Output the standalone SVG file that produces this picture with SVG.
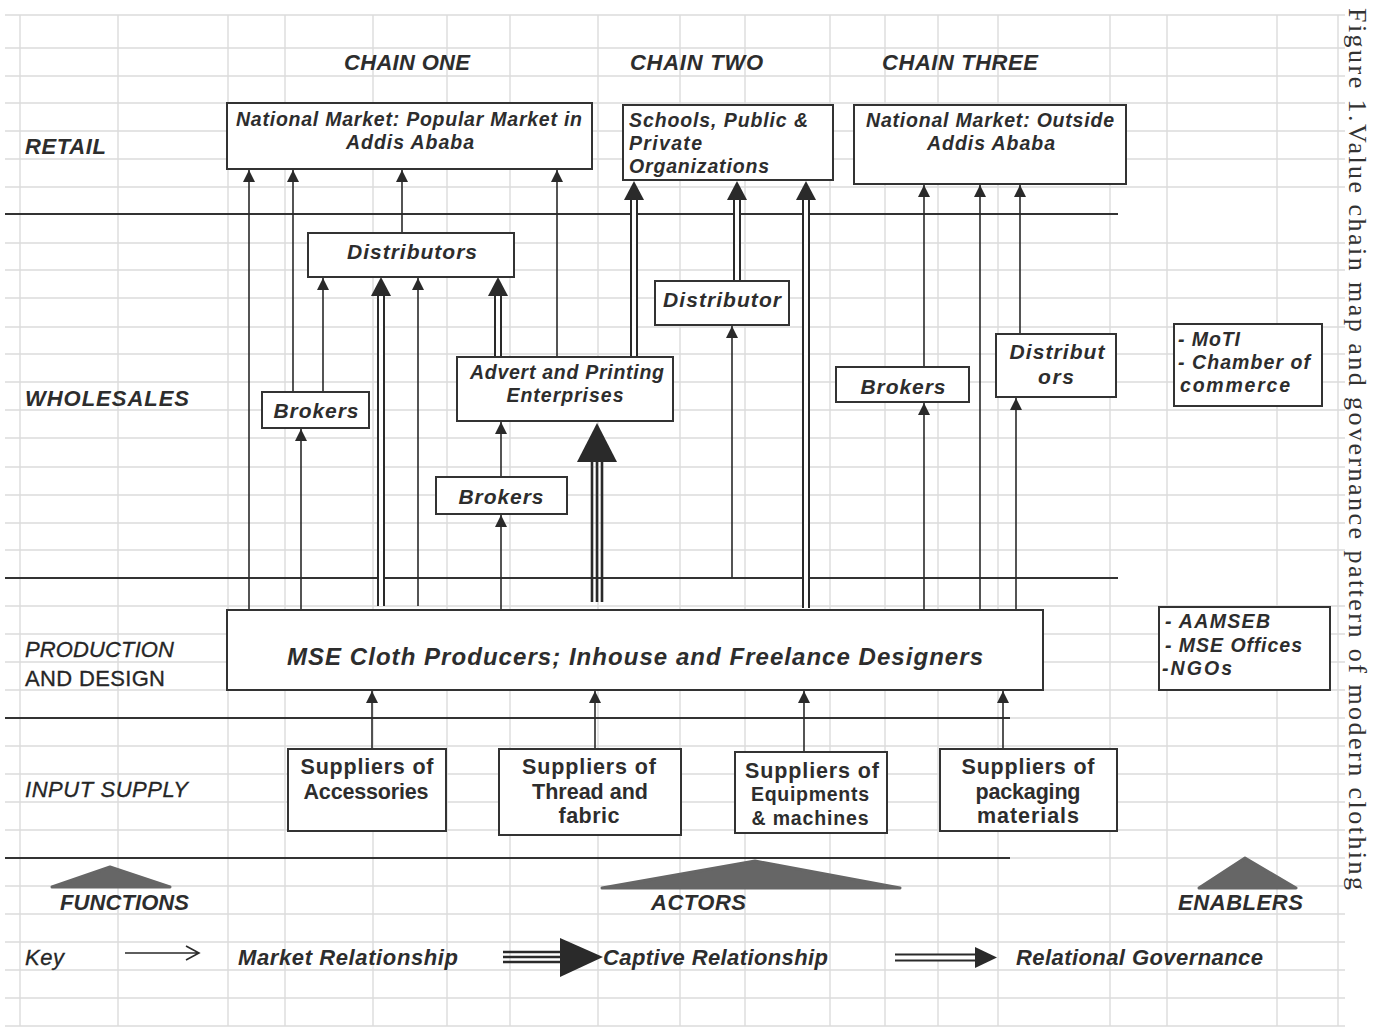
<svg xmlns="http://www.w3.org/2000/svg" width="1380" height="1034" viewBox="0 0 1380 1034">
<defs>
<style>
.grid{stroke:#dcdcdc;stroke-width:1.4;fill:none}
.sep{stroke:#333;stroke-width:1.8;fill:none}
.box{fill:#fff;stroke:#333;stroke-width:2}
.t{font-family:"Liberation Sans",Arial,sans-serif;font-weight:bold;font-style:italic;fill:#2d2d2d}
.u{font-family:"Liberation Sans",Arial,sans-serif;font-weight:bold;fill:#2d2d2d}
.n{font-family:"Liberation Sans",Arial,sans-serif;font-style:italic;fill:#262626;stroke:#262626;stroke-width:0.3}
.c{text-anchor:middle}
.s{stroke:#2a2a2a;stroke-width:1.6;fill:none}
.d2o{stroke:#2a2a2a;stroke-width:8;fill:none}
.d2i{stroke:#fff;stroke-width:4;fill:none}
.tr{stroke:#2a2a2a;stroke-width:2.6;fill:none}
.hd{fill:#2a2a2a}
.tri{fill:#666;stroke:#666;stroke-width:3;stroke-linejoin:round}
</style>
<marker id="ah" viewBox="0 0 12 12" refX="12" refY="6" markerWidth="13" markerHeight="12" markerUnits="userSpaceOnUse" orient="auto">
<path d="M0,0 L12,6 L0,12 z" fill="#2a2a2a"/>
</marker>
</defs>
<rect width="1380" height="1034" fill="#fff"/>
<g id="grid">
<path class="grid" d="M5,15H1345 M5,48H1345 M5,76H1345 M5,103H1345 M5,131H1345 M5,159H1345 M5,187H1345 M5,243H1345 M5,270H1345 M5,298H1345 M5,327H1345 M5,354H1345 M5,382H1345 M5,410H1345 M5,438H1345 M5,467H1345 M5,495H1345 M5,523H1345 M5,550H1345 M5,606H1345 M5,634H1345 M5,662H1345 M5,690H1345 M5,746H1345 M5,774H1345 M5,802H1345 M5,830H1345 M5,886H1345 M5,914H1345 M5,942H1345 M5,970H1345 M5,998H1345 M5,1026H1345 M1010,718H1345 M1010,858H1345"/>
<path class="grid" d="M20,15V1026 M118,15V1026 M228,15V1026 M285,15V1026 M373,15V1026 M447,15V1026 M510,15V1026 M598,15V1026 M680,15V1026 M745,15V1026 M830,15V1026 M885,15V1026 M938,15V1026 M998,15V1026 M1110,15V1026 M1167,15V1026 M1277,15V1026 M1338,15V1026"/>
</g>
<g id="separators">
<path class="sep" d="M5,214H1118 M5,578H1118 M5,718H1010 M5,858H1010"/>
</g>
<g id="labels">
<text class="t" x="344" y="70" font-size="22" textLength="126">CHAIN ONE</text>
<text class="t" x="630" y="70" font-size="22" textLength="133">CHAIN TWO</text>
<text class="t" x="882" y="70" font-size="22" textLength="156">CHAIN THREE</text>
<text class="t" x="25" y="154" font-size="22" textLength="81">RETAIL</text>
<text class="t" x="25" y="406" font-size="22" textLength="164">WHOLESALES</text>
<text class="n" x="25" y="657" font-size="22" textLength="149">PRODUCTION</text>
<text x="25" y="686" font-family="'Liberation Sans',Arial,sans-serif" font-size="22" fill="#262626" stroke="#262626" stroke-width="0.3" textLength="140">AND DESIGN</text>
<text class="n" x="25" y="797" font-size="22" textLength="163">INPUT SUPPLY</text>
<text class="t" x="60" y="910" font-size="22" textLength="129">FUNCTIONS</text>
<text class="t" x="651" y="910" font-size="22" textLength="95">ACTORS</text>
<text class="t" x="1178" y="910" font-size="22" textLength="125">ENABLERS</text>
<text class="n" x="25" y="965" font-size="22" textLength="39">Key</text>
<text class="t" x="238" y="965" font-size="22" textLength="220">Market Relationship</text>
<text class="t" x="603" y="965" font-size="22" textLength="225">Captive Relationship</text>
<text class="t" x="1016" y="965" font-size="22" textLength="247">Relational Governance</text>
<text x="0" y="0" transform="translate(1349,8) rotate(90)" font-family="'Liberation Serif','Times New Roman',serif" font-size="26" fill="#333" textLength="882">Figure 1.Value chain map and governance pattern of modern clothing</text>
</g>
<g id="triangles">
<polygon class="tri" points="52,887 110,867 170,887"/>
<polygon class="tri" points="602,888 755,861 900,888"/>
<polygon class="tri" points="1199,888 1245,858 1296,888"/>
</g>
<g id="connectors">
<path class="s" marker-end="url(#ah)" d="M249,609V170"/>
<path class="s" marker-end="url(#ah)" d="M293,392V170"/>
<path class="s" marker-end="url(#ah)" d="M402,233V170"/>
<path class="s" marker-end="url(#ah)" d="M557,357V170"/>
<path class="s" marker-end="url(#ah)" d="M323,392V278"/>
<path class="s" marker-end="url(#ah)" d="M418,606V278"/>
<path class="s" marker-end="url(#ah)" d="M501,477V422"/>
<path class="s" marker-end="url(#ah)" d="M501,609V515"/>
<path class="s" marker-end="url(#ah)" d="M301,609V429"/>
<path class="s" marker-end="url(#ah)" d="M732,578V326"/>
<path class="s" marker-end="url(#ah)" d="M924,367V185"/>
<path class="s" marker-end="url(#ah)" d="M980,609V185"/>
<path class="s" marker-end="url(#ah)" d="M1020,334V185"/>
<path class="s" marker-end="url(#ah)" d="M924,609V403"/>
<path class="s" marker-end="url(#ah)" d="M1016,609V398"/>
<path class="s" marker-end="url(#ah)" d="M372,749V691"/>
<path class="s" marker-end="url(#ah)" d="M595,749V691"/>
<path class="s" marker-end="url(#ah)" d="M804,752V691"/>
<path class="s" marker-end="url(#ah)" d="M1003,749V691"/>
<g id="rel-381"><path class="d2o" d="M381,606V292"/><path class="d2i" d="M381,606V292"/><polygon class="hd" points="371,296 381,277 391,296"/></g>
<g id="rel-498"><path class="d2o" d="M498,357V292"/><path class="d2i" d="M498,357V292"/><polygon class="hd" points="488,296 498,277 508,296"/></g>
<g id="rel-634"><path class="d2o" d="M634,357V196"/><path class="d2i" d="M634,357V196"/><polygon class="hd" points="624,200 634,181 644,200"/></g>
<g id="rel-737"><path class="d2o" d="M737,281V196"/><path class="d2i" d="M737,281V196"/><polygon class="hd" points="727,200 737,181 747,200"/></g>
<g id="rel-806"><path class="d2o" d="M806,608V196"/><path class="d2i" d="M806,608V196"/><polygon class="hd" points="796,200 806,181 816,200"/></g>
<g id="cap-597"><path class="tr" d="M592,602V458 M597,602V458 M602,602V458"/><polygon class="hd" points="577,462 597,423 617,462"/></g>
</g>
<g id="key">
<path class="s" d="M125,953H198 M186,946L199,953L186,960"/>
<path class="tr" d="M503,952H565 M503,957H565 M503,962H565"/>
<polygon class="hd" points="560,938 603,957 560,977"/>
<path class="d2o" d="M895,957.5H978"/><path class="d2i" d="M895,957.5H978"/>
<polygon class="hd" points="975,947 997,957.5 975,968"/>
</g>
<g id="n-natpop"><rect class="box" x="227" y="103" width="365" height="66"/>
<text class="t c" x="409" y="126" font-size="19.5" textLength="346">National Market: Popular Market in</text>
<text class="t c" x="410" y="149" font-size="19.5" textLength="128">Addis Ababa</text></g>
<g id="n-schools"><rect class="box" x="623" y="105" width="210" height="75"/>
<text class="t" x="629" y="127" font-size="19.5" textLength="179">Schools, Public  &amp;</text>
<text class="t" x="629" y="150" font-size="19.5" textLength="73">Private</text>
<text class="t" x="629" y="173" font-size="19.5" textLength="140">Organizations</text></g>
<g id="n-natout"><rect class="box" x="854" y="105" width="272" height="79"/>
<text class="t c" x="990" y="127" font-size="19.5" textLength="248">National Market: Outside</text>
<text class="t c" x="991" y="150" font-size="19.5" textLength="128">Addis Ababa</text></g>
<g id="n-distributors"><rect class="box" x="308" y="233" width="206" height="44"/>
<text class="t c" x="412" y="259" font-size="21" textLength="130">Distributors</text></g>
<g id="n-distributor"><rect class="box" x="655" y="281" width="134" height="44"/>
<text class="t c" x="722" y="307" font-size="21" textLength="118">Distributor</text></g>
<g id="n-brokers1"><rect class="box" x="262" y="392" width="107" height="36"/>
<text class="t c" x="316" y="418" font-size="21" textLength="85">Brokers</text></g>
<g id="n-advert"><rect class="box" x="457" y="357" width="216" height="64"/>
<text class="t c" x="567" y="379" font-size="19.5" textLength="194">Advert and Printing</text>
<text class="t c" x="565" y="402" font-size="19.5" textLength="117">Enterprises</text></g>
<g id="n-brokers2"><rect class="box" x="436" y="477" width="131" height="37"/>
<text class="t c" x="501" y="504" font-size="21" textLength="85">Brokers</text></g>
<g id="n-brokers3"><rect class="box" x="836" y="367" width="133" height="35"/>
<text class="t c" x="903" y="394" font-size="21" textLength="85">Brokers</text></g>
<g id="n-distributors3"><rect class="box" x="996" y="334" width="120" height="63"/>
<text class="t c" x="1057" y="359" font-size="21" textLength="95">Distribut</text>
<text class="t c" x="1056" y="384" font-size="21" textLength="36">ors</text></g>
<g id="n-moti"><rect class="box" x="1174" y="324" width="148" height="82"/>
<text class="t" x="1178" y="346" font-size="19.5" textLength="62">- MoTI</text>
<text class="t" x="1178" y="369" font-size="19.5" textLength="132">- Chamber of</text>
<text class="t" x="1180" y="392" font-size="19.5" textLength="110">commerce</text></g>
<g id="n-mse"><rect class="box" x="227" y="610" width="816" height="80"/>
<text class="t c" x="635" y="665" font-size="24" textLength="696">MSE Cloth Producers; Inhouse and Freelance Designers</text></g>
<g id="n-aamseb"><rect class="box" x="1159" y="607" width="171" height="83"/>
<text class="t" x="1165" y="628" font-size="19.5" textLength="105">- AAMSEB</text>
<text class="t" x="1165" y="652" font-size="19.5" textLength="137">- MSE Offices</text>
<text class="t" x="1162" y="675" font-size="19.5" textLength="70">-NGOs</text></g>
<g id="n-acc"><rect class="box" x="288" y="749" width="158" height="82"/>
<text class="u c" x="367" y="774" font-size="21.5" textLength="133">Suppliers of</text>
<text class="u c" x="366" y="799" font-size="21.5" textLength="125">Accessories</text></g>
<g id="n-thread"><rect class="box" x="499" y="749" width="182" height="86"/>
<text class="u c" x="589" y="774" font-size="21.5" textLength="134">Suppliers of</text>
<text class="u c" x="590" y="799" font-size="21.5" textLength="116">Thread and</text>
<text class="u c" x="589" y="823" font-size="21.5" textLength="61">fabric</text></g>
<g id="n-equip"><rect class="box" x="735" y="752" width="152" height="81"/>
<text class="u c" x="812" y="778" font-size="21.5" textLength="134">Suppliers of</text>
<text class="u c" x="810" y="801" font-size="19.5" textLength="118">Equipments</text>
<text class="u c" x="810" y="825" font-size="19.5" textLength="117">&amp; machines</text></g>
<g id="n-pack"><rect class="box" x="940" y="749" width="177" height="82"/>
<text class="u c" x="1028" y="774" font-size="21.5" textLength="133">Suppliers of</text>
<text class="u c" x="1028" y="799" font-size="21.5" textLength="105">packaging</text>
<text class="u c" x="1028" y="823" font-size="21.5" textLength="102">materials</text></g>
</svg>
